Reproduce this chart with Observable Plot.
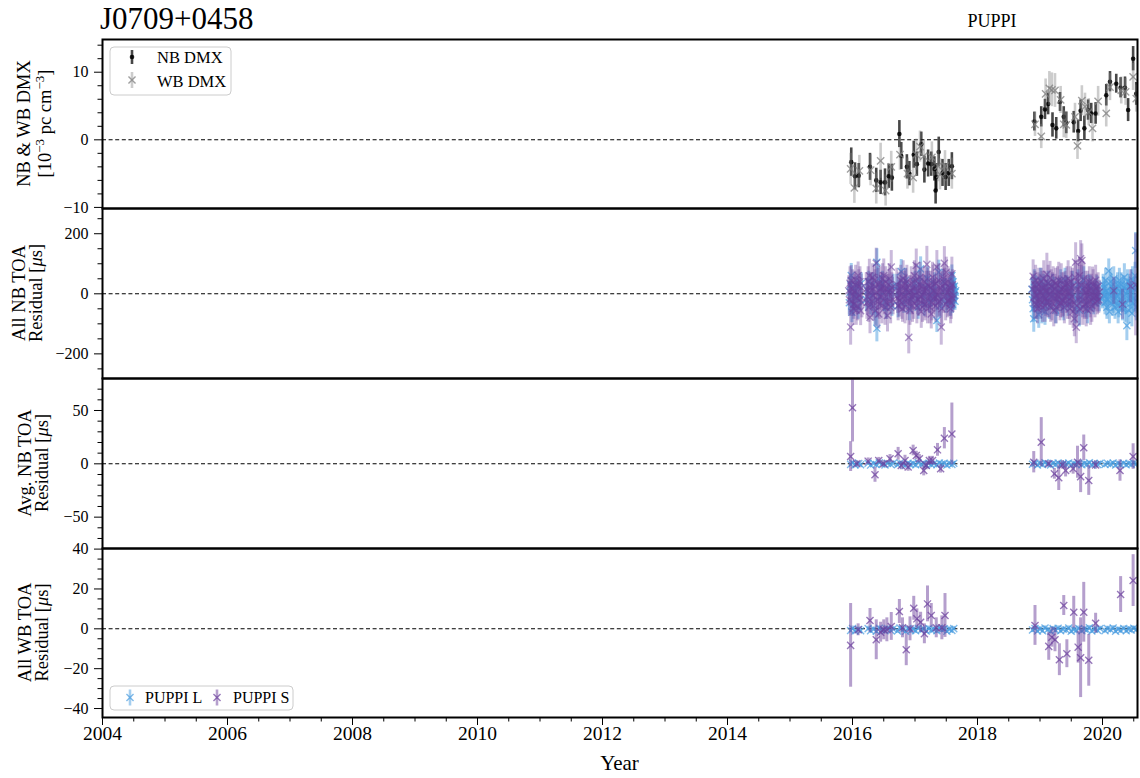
<!DOCTYPE html>
<html><head><meta charset="utf-8">
<script src="https://cdn.jsdelivr.net/npm/d3@7"></script>
<script src="https://cdn.jsdelivr.net/npm/@observablehq/plot@0.6"></script>
<style>
body{margin:0;background:#fff;}
#wrap{position:relative;width:1140px;height:778px;font-family:"Liberation Serif",serif;}
#wrap svg{position:absolute;left:0;overflow:visible;background:transparent;}
</style></head><body><div id="wrap"></div>
<script>
// ---------- data: [year, value, error] ----------
const dmxNB = [[2015.98,-3.3,2.1],[2016.04,-5.4,2.0],[2016.10,-5.3,1.8],[2016.28,-4.0,2.0],[2016.38,-6.0,1.8],[2016.45,-6.3,1.8],[2016.52,-6.3,2.0],[2016.58,-5.4,1.8],[2016.63,-5.6,2.0],[2016.75,0.85,2.0],[2016.78,-2.4,2.0],[2016.87,-4.0,1.8],[2016.91,-5.0,1.8],[2016.98,-2.2,2.0],[2017.03,-3.6,1.8],[2017.10,-0.65,1.8],[2017.15,-4.4,2.0],[2017.21,-3.5,2.0],[2017.26,-3.6,1.8],[2017.31,-4.3,1.8],[2017.34,-5.5,2.0],[2017.33,-7.5,2.0],[2017.38,-1.8,2.2],[2017.44,-4.9,2.0],[2017.49,-5.5,2.0],[2017.54,-4.9,2.0],[2017.59,-3.9,2.0],
  [2018.91,2.7,1.4],[2019.02,3.4,1.5],[2019.08,4.5,1.5],[2019.13,5.3,1.6],[2019.20,2.2,1.8],[2019.26,1.7,1.6],[2019.32,5.6,1.4],[2019.38,3.4,1.5],[2019.42,2.5,1.6],[2019.54,2.6,1.6],[2019.61,1.3,1.6],[2019.65,4.3,1.6],[2019.71,1.7,1.8],[2019.77,4.4,1.5],[2019.82,3.9,1.5],[2019.89,3.9,1.6],[2020.06,6.6,1.6],[2020.12,8.6,1.5],[2020.22,8.3,1.4],[2020.29,7.7,1.5],[2020.36,7.7,1.6],[2020.41,4.4,1.7],[2020.49,12.0,1.8],[2020.54,6.8,1.7]];
const dmxWB = [[2015.97,-4.3,2.3],[2016.03,-7.1,2.3],[2016.11,-4.6,2.3],[2016.29,-4.5,2.3],[2016.38,-7.2,2.3],[2016.45,-3.1,2.6],[2016.53,-7.5,2.3],[2016.62,-4.0,2.3],[2016.76,-2.2,2.3],[2016.88,-5.0,2.3],[2016.97,-5.6,2.3],[2017.02,-2.2,2.3],[2017.08,-1.0,2.3],[2017.14,-2.4,2.3],[2017.27,-2.6,2.3],[2017.37,-3.9,2.3],[2017.40,-5.1,2.3],[2017.48,-3.9,2.3],[2017.59,-5.0,2.3],
  [2018.92,2.3,1.8],[2019.02,0.5,1.8],[2019.09,6.8,2.2],[2019.15,7.6,2.5],[2019.19,7.4,2.5],[2019.24,7.3,2.5],[2019.33,5.9,2.0],[2019.38,2.3,2.0],[2019.42,2.2,2.0],[2019.56,3.4,2.0],[2019.60,-0.9,2.0],[2019.67,5.8,2.2],[2019.72,4.9,2.0],[2019.78,4.1,2.0],[2019.84,1.7,2.0],[2019.93,5.7,2.2],[2020.06,3.9,2.0],[2020.12,7.8,2.0],[2020.30,7.3,2.0],[2020.37,7.1,2.0],[2020.49,9.3,2.0],[2020.54,6.1,2.0]];

const nbAllL = [[2015.96,5,35],[2015.98,61,40],[2015.99,-61,35],[2016.03,-10,40],[2016.07,25,35],[2016.12,-20,35],
  [2015.95,-30,40],[2015.97,30,35],[2016.01,-35,40],[2016.05,10,35],[2016.09,-45,40],[2016.14,35,35],
  [2016.24,10,40],[2016.29,-35,35],[2016.33,30,40],[2016.39,105,45],[2016.39,-115,45],[2016.45,20,40],[2016.51,-25,35],[2016.57,15,40],[2016.63,-40,35],
  [2016.22,-20,40],[2016.26,40,35],[2016.31,-5,40],[2016.36,-60,45],[2016.41,50,40],[2016.43,-10,35],[2016.48,35,40],[2016.54,-45,40],[2016.60,10,35],[2016.65,25,40],
  [2016.71,25,40],[2016.78,74,40],[2016.82,-30,35],[2016.87,5,40],[2016.94,-20,35],[2017.00,35,40],[2017.05,-45,40],[2017.09,83,40],[2017.12,-5,35],[2017.18,20,40],[2017.23,-30,35],[2017.28,10,40],[2017.33,-15,35],[2017.35,-89,40],[2017.38,72,40],[2017.43,-20,35],[2017.48,15,35],[2017.53,-10,30],[2017.56,20,30],[2017.59,61,35],[2017.60,0,25],[2017.61,-20,30],[2017.62,15,30],[2017.63,-5,25],[2017.64,5,25],
  [2016.73,-40,40],[2016.75,10,35],[2016.85,45,40],[2016.91,-50,40],[2016.97,15,35],[2017.03,-15,40],[2017.07,40,40],[2017.15,-35,40],[2017.20,50,40],[2017.25,-10,35],[2017.31,30,40],[2017.40,-40,40],[2017.45,40,40],[2017.50,-30,35],[2017.57,-40,35],[2017.58,35,35],[2017.60,-35,30],[2017.61,40,30],[2017.62,-10,25],[2017.63,25,30],[2017.64,-25,30],[2017.65,10,25],
  [2018.88,-20,40],[2018.90,-83,45],[2018.93,20,40],[2018.96,-40,45],[2019.00,10,40],[2019.03,-55,45],[2019.06,25,40],[2019.10,-25,45],[2019.13,35,40],[2019.18,-10,45],[2019.23,15,40],[2019.28,-30,45],[2019.33,40,40],[2019.38,-45,45],[2019.43,20,40],[2019.48,-15,40],[2019.52,30,45],[2019.59,-20,50],[2019.63,-55,55],[2019.68,15,45],[2019.73,-35,45],[2019.78,25,40],[2019.83,-20,40],[2019.88,10,35],[2019.93,-10,35],
  [2018.87,15,40],[2018.89,-50,45],[2018.91,40,40],[2018.94,-10,40],[2018.98,-70,45],[2019.01,45,40],[2019.05,-5,40],[2019.08,-60,45],[2019.11,5,40],[2019.15,-40,45],[2019.20,25,40],[2019.25,-55,45],[2019.30,10,40],[2019.35,-20,45],[2019.40,45,40],[2019.45,-35,40],[2019.50,5,45],[2019.56,-50,50],[2019.61,30,50],[2019.66,-10,45],[2019.70,45,45],[2019.76,-55,45],[2019.81,20,40],[2019.86,-30,40],[2019.91,25,35],[2019.95,-25,35],
  [2020.00,-15,35],[2020.02,20,35],[2020.04,-30,40],[2020.06,10,35],[2020.08,-20,35],[2020.10,76,40],[2020.12,-5,35],[2020.14,25,40],[2020.16,-35,40],[2020.19,15,35],[2020.21,-15,35],[2020.24,30,40],[2020.26,-40,40],[2020.29,5,35],[2020.31,-25,35],[2020.34,20,40],[2020.36,-50,45],[2020.39,-106,50],[2020.41,10,40],[2020.44,-20,40],[2020.46,35,45],[2020.49,-30,40],[2020.51,15,40],[2020.53,144,60],[2020.54,-45,45],[2020.56,20,40],
  [2020.01,30,35],[2020.03,-5,35],[2020.05,45,40],[2020.07,-45,40],[2020.09,0,35],[2020.11,-60,40],[2020.13,40,40],[2020.15,5,35],[2020.17,-25,40],[2020.18,50,40],[2020.20,-45,40],[2020.22,20,35],[2020.23,-5,35],[2020.25,-60,40],[2020.27,45,40],[2020.28,-20,35],[2020.30,30,40],[2020.32,-50,40],[2020.33,10,35],[2020.35,55,45],[2020.37,-30,40],[2020.38,0,35],[2020.40,40,40],[2020.42,-55,45],[2020.43,25,40],[2020.45,-10,40],[2020.47,-65,45],[2020.48,45,45],[2020.50,-15,40],[2020.52,60,45],[2020.55,-25,40]];
const nbAllS = [[2015.95,-20,55],[2015.97,-111,60],[2015.98,44,50],[2016.00,15,65],[2016.02,-35,50],[2016.04,30,45],[2016.06,-55,50],[2016.09,61,45],[2016.11,-5,60],[2016.13,-56,50],[2016.14,20,45],
  [2015.94,10,50],[2015.96,35,55],[2015.99,-25,50],[2016.01,-50,55],[2016.03,5,60],[2016.05,45,50],[2016.07,-15,55],[2016.08,-40,50],[2016.10,25,55],[2016.12,40,50],[2016.15,-30,50],
  [2016.23,-30,55],[2016.25,40,50],[2016.28,-78,55],[2016.30,10,60],[2016.32,55,45],[2016.34,-40,50],[2016.36,25,55],[2016.38,102,50],[2016.40,-20,60],[2016.42,-67,50],[2016.44,35,55],[2016.46,-10,45],[2016.48,50,50],[2016.50,61,55],[2016.52,-45,60],[2016.54,15,50],[2016.56,-72,55],[2016.58,30,50],[2016.60,-25,45],[2016.62,89,55],[2016.64,5,50],
  [2016.22,15,55],[2016.24,-10,60],[2016.26,-45,50],[2016.27,60,55],[2016.29,20,50],[2016.31,-25,55],[2016.33,-5,60],[2016.35,45,50],[2016.37,-55,55],[2016.39,5,60],[2016.41,30,55],[2016.43,-35,50],[2016.45,15,55],[2016.47,-40,60],[2016.49,20,50],[2016.51,-15,55],[2016.53,40,50],[2016.55,-30,55],[2016.57,5,60],[2016.59,50,50],[2016.61,-45,55],[2016.63,20,50],[2016.65,-20,50],
  [2016.72,-15,50],[2016.75,-22,55],[2016.77,45,50],[2016.80,-50,45],[2016.83,20,55],[2016.85,33,50],[2016.88,-30,60],[2016.90,-145,55],[2016.93,10,50],[2016.96,-40,55],[2016.99,60,50],[2017.02,94,55],[2017.04,-20,50],[2017.07,30,45],[2017.10,-60,55],[2017.13,15,50],[2017.16,-35,55],[2017.19,98,60],[2017.22,25,50],[2017.24,-45,55],[2017.26,-67,50],[2017.29,40,55],[2017.32,-10,50],[2017.35,89,55],[2017.37,-30,50],[2017.40,20,55],[2017.42,-111,60],[2017.45,50,50],[2017.47,102,55],[2017.50,72,50],[2017.52,-25,55],[2017.55,10,45],[2017.57,-50,50],[2017.59,67,55],[2017.61,-15,45],
  [2016.71,30,55],[2016.73,-40,50],[2016.74,10,60],[2016.76,-5,55],[2016.78,25,50],[2016.79,-30,55],[2016.81,50,60],[2016.82,-10,50],[2016.84,-45,55],[2016.86,15,50],[2016.87,40,55],[2016.89,-20,50],[2016.91,5,55],[2016.92,-55,50],[2016.94,35,55],[2016.95,-10,60],[2016.97,20,50],[2016.98,-30,55],[2017.00,-5,50],[2017.01,45,55],[2017.03,-40,60],[2017.05,10,50],[2017.06,-20,55],[2017.08,55,50],[2017.09,-10,55],[2017.11,25,60],[2017.12,-45,50],[2017.14,5,55],[2017.15,40,50],[2017.17,-25,55],[2017.18,15,60],[2017.20,-50,50],[2017.21,30,55],[2017.23,-5,50],[2017.25,20,55],[2017.27,-30,60],[2017.28,55,50],[2017.30,-15,55],[2017.31,10,50],[2017.33,-40,55],[2017.34,35,60],[2017.36,-5,50],[2017.38,45,55],[2017.39,-25,50],[2017.41,15,55],[2017.43,-50,60],[2017.44,25,50],[2017.46,-10,55],[2017.48,35,50],[2017.49,-35,55],[2017.51,5,60],[2017.53,40,50],[2017.54,-20,55],[2017.56,20,50],[2017.58,-30,55],[2017.60,30,50],[2017.62,-5,45],
  [2018.89,58,55],[2018.90,-11,50],[2018.92,30,45],[2018.94,-35,50],[2018.97,15,55],[2018.99,-20,50],[2019.02,40,45],[2019.04,-45,50],[2019.07,20,55],[2019.09,-15,60],[2019.11,65,70],[2019.14,-30,50],[2019.16,53,55],[2019.17,-45,50],[2019.20,10,60],[2019.22,-55,55],[2019.25,35,50],[2019.27,-20,55],[2019.30,45,60],[2019.32,-40,50],[2019.35,15,55],[2019.37,-25,50],[2019.40,30,45],[2019.42,-10,55],[2019.45,50,60],[2019.47,-35,50],[2019.50,20,55],[2019.53,-60,55],[2019.55,-83,60],[2019.57,105,65],[2019.58,-111,55],[2019.60,40,60],[2019.62,-20,55],[2019.65,117,60],[2019.67,111,55],[2019.69,-45,60],[2019.72,25,50],[2019.75,-30,55],[2019.78,10,50],[2019.81,-50,55],[2019.84,39,50],[2019.86,-15,45],[2019.89,45,50],[2019.92,-25,45],[2019.95,5,40],
  [2018.88,15,50],[2018.91,-30,55],[2018.93,45,50],[2018.95,-5,55],[2018.96,-50,50],[2018.98,30,55],[2019.00,5,60],[2019.01,-35,50],[2019.03,20,55],[2019.05,-15,50],[2019.06,50,60],[2019.08,-40,55],[2019.10,10,50],[2019.12,-25,55],[2019.13,35,60],[2019.15,-5,50],[2019.18,25,55],[2019.19,-30,60],[2019.21,40,50],[2019.23,-15,55],[2019.24,15,50],[2019.26,-45,55],[2019.28,30,60],[2019.29,-10,50],[2019.31,5,55],[2019.33,-30,50],[2019.34,45,55],[2019.36,-20,60],[2019.38,20,50],[2019.39,-45,55],[2019.41,10,50],[2019.43,35,55],[2019.44,-25,60],[2019.46,5,50],[2019.48,-50,55],[2019.49,40,50],[2019.51,-10,55],[2019.52,25,60],[2019.54,-30,50],[2019.56,55,55],[2019.59,-40,60],[2019.61,15,55],[2019.63,60,60],[2019.64,-50,55],[2019.66,30,65],[2019.68,-20,60],[2019.70,50,55],[2019.71,-35,50],[2019.73,5,55],[2019.74,-50,60],[2019.76,25,50],[2019.77,-10,55],[2019.79,40,50],[2019.80,-25,55],[2019.82,15,50],[2019.83,-40,55],[2019.85,30,50],[2019.87,-5,45],[2019.88,-30,50],[2019.90,20,45],[2019.91,-10,50],[2019.93,25,45],[2019.94,-20,45],
  [2020.18,10,45],[2020.32,-35,50],[2020.45,25,55],[2020.53,30,170]];

const nbAvgL = [[2015.97,-0.5,1.5],[2016.00,0.8,1.8],[2016.04,-1.0,1.5],[2016.10,0.3,1.5],[2016.13,-0.8,1.4],[2016.25,0.5,1.5],[2016.29,-1.2,1.6],[2016.34,0.2,1.4],[2016.38,-0.6,1.5],[2016.43,0.9,1.5],[2016.47,-0.4,1.4],[2016.52,-1.1,1.5],[2016.56,0.6,1.6],[2016.61,-0.3,1.5],[2016.65,0.4,1.4],[2016.72,-0.9,1.5],[2016.76,0.7,1.6],[2016.80,-0.2,1.5],[2016.85,-1.3,1.5],[2016.89,0.5,1.4],[2016.93,-0.6,1.5],[2016.97,0.2,1.5],[2017.01,-0.8,1.6],[2017.05,0.9,1.5],[2017.10,-0.4,1.4],[2017.14,0.3,1.5],[2017.18,-1.0,1.5],[2017.22,0.6,1.6],[2017.26,-0.5,1.5],[2017.30,0.1,1.4],[2017.35,-0.9,1.5],[2017.39,0.7,1.5],[2017.43,-0.3,1.6],[2017.47,0.4,1.5],[2017.51,-1.2,1.5],[2017.55,0.2,1.4],[2017.59,-0.6,1.5],[2017.62,0.5,1.5],
  [2018.88,-0.4,1.5],[2018.92,0.6,1.5],[2018.96,-1.0,1.6],[2019.00,0.3,1.5],[2019.04,-0.7,1.4],[2019.08,0.9,1.5],[2019.12,-0.2,1.5],[2019.17,-1.1,1.6],[2019.21,0.4,1.5],[2019.25,-0.5,1.4],[2019.29,0.7,1.5],[2019.33,-0.9,1.5],[2019.37,0.2,1.6],[2019.42,-0.3,1.5],[2019.46,0.8,1.4],[2019.50,-1.2,1.5],[2019.54,0.1,1.5],[2019.58,-0.6,1.6],[2019.62,0.5,1.5],[2019.67,-0.8,1.4],[2019.71,0.3,1.5],[2019.75,-0.4,1.5],[2019.79,0.9,1.6],[2019.83,-1.0,1.5],[2019.87,0.2,1.4],[2019.92,-0.5,1.5],[2019.96,0.6,1.5],[2020.04,-0.7,1.5],[2020.08,0.4,1.6],[2020.13,-0.3,1.5],[2020.17,0.8,1.4],[2020.21,-1.1,1.5],[2020.25,0.2,1.5],[2020.29,-0.6,1.6],[2020.34,0.5,1.5],[2020.38,-0.9,1.4],[2020.42,0.3,1.5],[2020.46,-0.4,1.5],[2020.50,0.7,1.6],[2020.54,-0.2,1.5]];
const nbAvgS = [[2015.97,6.8,14],[2016.00,52.5,32],[2016.07,0,3],[2016.25,2.5,3],[2016.36,-10.3,7],[2016.42,3,3],[2016.50,0,3],[2016.60,4.7,4],[2016.73,9.4,6],[2016.78,-1.6,4],[2016.84,3,5],[2016.89,-3,4],[2016.97,12.5,5],[2017.02,7.8,4],[2017.07,4.7,4],[2017.14,-6.3,5],[2017.18,-1.6,4],[2017.23,3,4],[2017.28,3,4],[2017.36,13.1,6],[2017.41,-4.7,4],[2017.47,24,10],[2017.59,28,29],
  [2018.90,1.5,10],[2019.02,20.3,23],[2019.14,0,3],[2019.23,-9.4,5],[2019.30,-13,12],[2019.36,-1,4],[2019.41,-6.3,6],[2019.53,-4.7,5],[2019.60,1.5,15],[2019.65,-12,15],[2019.70,15,12],[2019.78,-15.6,14],[2019.89,-1,4],[2020.28,-6.3,10],[2020.49,6.8,12]];

const wbAllL = [[2015.97,-0.8,1.2],[2016.00,0.2,1.2],[2016.04,-1.1,1.1],[2016.10,-0.3,1.2],[2016.13,-1.0,1.1],[2016.25,0.1,1.2],[2016.29,-0.9,1.2],[2016.34,-0.2,1.1],[2016.38,-1.2,1.2],[2016.43,0.3,1.2],[2016.47,-0.6,1.1],[2016.52,-1.0,1.2],[2016.56,0.2,1.2],[2016.61,-0.7,1.1],[2016.65,-0.1,1.2],[2016.72,-1.1,1.2],[2016.76,0.4,1.1],[2016.80,-0.5,1.2],[2016.85,-1.2,1.2],[2016.89,0.1,1.1],[2016.93,-0.8,1.2],[2016.97,-0.2,1.2],[2017.01,-1.0,1.1],[2017.05,0.3,1.2],[2017.10,-0.6,1.2],[2017.14,-0.1,1.1],[2017.18,-1.1,1.2],[2017.22,0.2,1.2],[2017.26,-0.7,1.1],[2017.30,-0.3,1.2],[2017.35,-1.0,1.2],[2017.39,0.3,1.1],[2017.43,-0.5,1.2],[2017.47,0.0,1.2],[2017.51,-1.2,1.1],[2017.55,-0.2,1.2],[2017.59,-0.8,1.2],[2017.62,0.1,1.1],
  [2018.88,-0.6,1.2],[2018.92,0.2,1.2],[2018.96,-1.1,1.1],[2019.00,-0.1,1.2],[2019.04,-0.9,1.2],[2019.08,0.4,1.1],[2019.12,-0.5,1.2],[2019.17,-1.2,1.2],[2019.21,0.1,1.1],[2019.25,-0.7,1.2],[2019.29,0.3,1.2],[2019.33,-1.0,1.1],[2019.37,-0.2,1.2],[2019.42,-0.6,1.2],[2019.46,0.4,1.1],[2019.50,-1.2,1.2],[2019.54,-0.3,1.2],[2019.58,-0.8,1.1],[2019.62,0.2,1.2],[2019.67,-1.0,1.2],[2019.71,-0.1,1.1],[2019.75,-0.6,1.2],[2019.79,0.5,1.2],[2019.83,-1.1,1.1],[2019.87,-0.2,1.2],[2019.92,-0.7,1.2],[2019.96,0.2,1.1],[2020.04,-0.9,1.2],[2020.08,0.1,1.2],[2020.13,-0.5,1.1],[2020.17,0.4,1.2],[2020.21,-1.2,1.2],[2020.25,-0.2,1.1],[2020.29,-0.8,1.2],[2020.34,0.2,1.2],[2020.38,-1.0,1.1],[2020.42,-0.1,1.2],[2020.46,-0.6,1.2],[2020.50,0.3,1.1],[2020.54,-0.4,1.2]];
const wbAllS = [[2015.97,-8.3,21],[2016.09,-0.5,3],[2016.28,4.2,6],[2016.38,-5.5,10],[2016.45,-1.7,5],[2016.50,-0.5,5],[2016.55,-0.5,6],[2016.62,1.2,7],[2016.75,8.7,6],[2016.80,0.5,5],[2016.86,-10.5,8],[2016.92,0,6],[2016.98,10.3,6],[2017.03,5,5],[2017.09,3.3,5],[2017.15,-2.5,5],[2017.20,12.5,9],[2017.26,6.7,6],[2017.34,0.5,5],[2017.43,0.5,6],[2017.48,6.7,11],
  [2018.92,1.7,10],[2019.14,-8.8,7],[2019.19,-4.2,5],[2019.24,-5.5,6],[2019.31,-15.5,8],[2019.38,11.7,5],[2019.43,-12.5,7],[2019.54,8.3,8],[2019.61,-9.2,8],[2019.65,-14.5,20],[2019.70,8.3,15],[2019.78,-15.8,13],[2019.89,2.8,5],[2020.29,17.2,9],[2020.49,24.2,13]];

// ---------- tick values ----------
const yearTicks = [2004,2006,2008,2010,2012,2014,2016,2018,2020];
const yearMinor = [2004.5,2005,2005.5,2006.5,2007,2007.5,2008.5,2009,2009.5,2010.5,2011,2011.5,2012.5,2013,2013.5,2014.5,2015,2015.5,2016.5,2017,2017.5,2018.5,2019,2019.5,2020.5];
const dmxTicks = [-10,0,10], dmxMinor = [-8,-6,-4,-2,2,4,6,8,12,14];
const allTicks = [-200,0,200], allMinor = [-250,-150,-100,-50,50,100,150,250];
const avgTicks = [-50,0,50], avgMinor = [-70,-60,-40,-30,-20,-10,10,20,30,40,60,70];
const wbTicks = [-40,-20,0,20,40], wbMinor = [-35,-30,-25,-15,-10,-5,5,10,15,25,30,35];

// ---------- styling ----------
const FONT = "Liberation Serif";
const XDOM = [2004, 2020.56];
const BLUE = "#4a9de0", PURPLE = "#6b3f9c";
const fmt = d => d < 0 ? "\u2212" + Math.abs(d) : String(d);
const wrap = document.getElementById("wrap");

function errSeries(data, {color, barOp, mkOp, symbol, r, barW = 3, fillDot = false}) {
  const gx = d => d[0], gy = d => d[1];
  return [
    Plot.ruleX(data, {x: gx, y1: d => d[1] - d[2], y2: d => d[1] + d[2], stroke: color, strokeOpacity: barOp, strokeWidth: barW, clip: true}),
    fillDot
      ? Plot.dot(data, {x: gx, y: gy, r, fill: color, fillOpacity: mkOp, stroke: "none", clip: true})
      : Plot.dot(data, {x: gx, y: gy, r, symbol, stroke: color, strokeOpacity: mkOp, strokeWidth: 1.4, fill: "none", clip: true})
  ];
}

function panel({top, frameH, domain, major, minor, series, last}) {
  const mt = 20, mb = last ? 61 : 20;
  const marks = [
    Plot.ruleY([0], {stroke: "#000", strokeWidth: 1.1, strokeDasharray: "4,2.6"}),
    ...series.flat(),
    Plot.axisY({ticks: major, tickSize: 8, tickPadding: 6, fontSize: 16, tickFormat: fmt, label: null}),
    Plot.axisY({ticks: minor, tickSize: 4.5, fill: "none", label: null}),
    Plot.frame({stroke: "#000", strokeWidth: 2})
  ];
  if (last) {
    marks.push(Plot.axisX({ticks: yearTicks, tickSize: 8, tickPadding: 1, fontSize: 19.5, tickFormat: d => String(d), label: null}));
    marks.push(Plot.axisX({ticks: yearMinor, tickSize: 4.5, fill: "none", label: null}));
  }
  const svg = Plot.plot({
    width: 1140, height: frameH + mt + mb,
    marginLeft: 102, marginRight: 3, marginTop: mt, marginBottom: mb,
    style: {fontFamily: FONT, background: "transparent", overflow: "visible"},
    x: last ? {domain: XDOM} : {domain: XDOM, axis: null},
    y: {domain},
    marks
  });
  svg.style.position = "absolute";
  svg.style.top = (top - mt) + "px";
  wrap.appendChild(svg);
}

panel({top: 39, frameH: 169, domain: [-10.16, 14.84], major: dmxTicks, minor: dmxMinor,
  series: [errSeries(dmxNB, {color: "#000", barOp: 0.72, mkOp: 0.85, r: 2.3, barW: 2.6, fillDot: true}),
           errSeries(dmxWB, {color: "#808080", barOp: 0.4, mkOp: 0.75, symbol: "times", r: 3.4, barW: 2.6})]});
panel({top: 208, frameH: 170, domain: [-282, 284], major: allTicks, minor: allMinor,
  series: [errSeries(nbAllL, {color: BLUE, barOp: 0.5, mkOp: 0.7, symbol: "times", r: 3.3}),
           errSeries(nbAllS, {color: PURPLE, barOp: 0.36, mkOp: 0.55, symbol: "times", r: 3.3})]});
panel({top: 378, frameH: 170, domain: [-79.4, 80], major: avgTicks, minor: avgMinor,
  series: [errSeries(nbAvgL, {color: BLUE, barOp: 0.5, mkOp: 0.7, symbol: "times", r: 3.3}),
           errSeries(nbAvgS, {color: PURPLE, barOp: 0.5, mkOp: 0.7, symbol: "times", r: 3.3})]});
panel({top: 548, frameH: 169, domain: [-44.5, 40.3], major: wbTicks, minor: wbMinor, last: true,
  series: [errSeries(wbAllL, {color: BLUE, barOp: 0.5, mkOp: 0.7, symbol: "times", r: 3.3}),
           errSeries(wbAllS, {color: PURPLE, barOp: 0.5, mkOp: 0.7, symbol: "times", r: 3.3})]});

// ---------- overlay text & legends ----------
const ov = d3.select(wrap).append("svg").attr("width", 1140).attr("height", 778)
  .style("top", "0px").style("pointer-events", "none").attr("font-family", FONT);
ov.append("text").attr("x", 100).attr("y", 29).attr("font-size", 31).text("J0709+0458");
ov.append("text").attr("x", 992).attr("y", 27).attr("text-anchor", "middle").attr("font-size", 18).text("PUPPI");
ov.append("text").attr("x", 619.5).attr("y", 770).attr("text-anchor", "middle").attr("font-size", 21).text("Year");

function ylabel(bx, cy, parts) {
  const t = ov.append("text").attr("transform", `translate(${bx},${cy}) rotate(-90)`)
    .attr("text-anchor", "middle").attr("font-size", 18.5);
  for (const p of parts) {
    const s = t.append("tspan").text(p.t);
    if (p.sup) s.attr("font-size", 13).attr("dy", -7);
    if (p.down) s.attr("dy", 7);
    if (p.it) s.attr("font-style", "italic");
  }
}
ylabel(30, 123.5, [{t: "NB & WB DMX"}]);
ylabel(51, 123.5, [{t: "[10"}, {t: "\u22123", sup: true}, {t: " pc cm", down: true}, {t: "\u22123", sup: true}, {t: "]", down: true}]);
ylabel(25, 293, [{t: "All NB TOA"}]);
ylabel(42, 293, [{t: "Residual ["}, {t: "\u03bc", it: true}, {t: "s]"}]);
ylabel(31, 463, [{t: "Avg. NB TOA"}]);
ylabel(48, 463, [{t: "Residual ["}, {t: "\u03bc", it: true}, {t: "s]"}]);
ylabel(31, 632.5, [{t: "All WB TOA"}]);
ylabel(48, 632.5, [{t: "Residual ["}, {t: "\u03bc", it: true}, {t: "s]"}]);

const times = d3.symbol(d3.symbolTimes, Math.PI * 3.3 * 3.3);
function legendBox(x, y, w, h) {
  ov.append("rect").attr("x", x).attr("y", y).attr("width", w).attr("height", h).attr("rx", 4)
    .attr("fill", "#fff").attr("fill-opacity", 0.8).attr("stroke", "#cccccc").attr("stroke-width", 1);
}
function handle(x, y, half, color, barOp, mkOp, kind) {
  ov.append("line").attr("x1", x).attr("x2", x).attr("y1", y - half).attr("y2", y + half)
    .attr("stroke", color).attr("stroke-opacity", barOp).attr("stroke-width", 2.6);
  if (kind === "dot") ov.append("circle").attr("cx", x).attr("cy", y).attr("r", 2.3).attr("fill", color).attr("fill-opacity", mkOp);
  else ov.append("path").attr("d", times()).attr("transform", `translate(${x},${y})`)
    .attr("fill", "none").attr("stroke", color).attr("stroke-opacity", mkOp).attr("stroke-width", 1.4);
}
legendBox(110, 47, 121, 48);
handle(132, 57, 7, "#000", 0.72, 0.85, "dot");
handle(132, 80, 8, "#808080", 0.4, 0.75, "x");
ov.append("text").attr("x", 157).attr("y", 63).attr("font-size", 16.5).text("NB DMX");
ov.append("text").attr("x", 157).attr("y", 87).attr("font-size", 16.5).text("WB DMX");

legendBox(110, 686, 183, 24);
handle(130, 697.5, 8, BLUE, 0.5, 0.7, "x");
handle(217, 697.5, 8, PURPLE, 0.5, 0.7, "x");
ov.append("text").attr("x", 145).attr("y", 703).attr("font-size", 16).text("PUPPI L");
ov.append("text").attr("x", 233).attr("y", 703).attr("font-size", 16).text("PUPPI S");
</script></body></html>
